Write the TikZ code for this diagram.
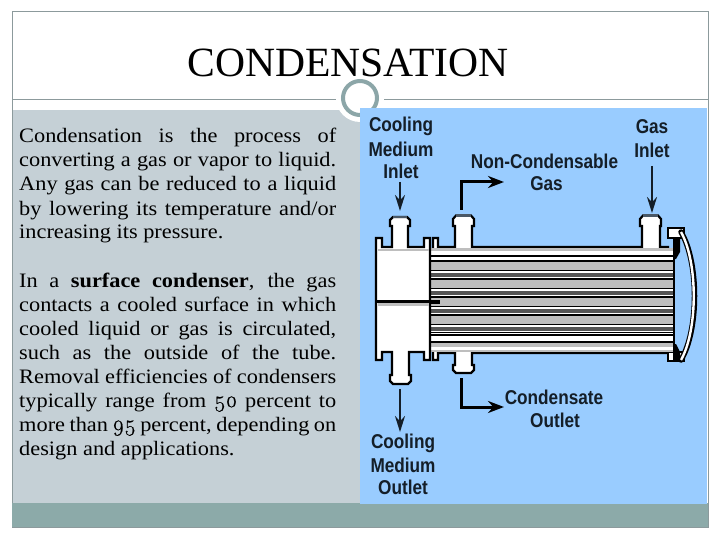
\documentclass[tikz,border=0pt]{standalone}
\usepackage{fontspec}
\usetikzlibrary{arrows.meta}
\setmainfont[FakeStretch=1.09]{Liberation Serif}
\newfontfamily\titlefont{Liberation Serif}
\newfontfamily\oldnums[Numbers=OldStyle,Scale=1.1,FakeBold=0.8]{Latin Modern Roman}
\newfontfamily\labfont[FakeStretch=0.86]{Liberation Sans}
\definecolor{framegray}{HTML}{8C9A9C}
\definecolor{panelgray}{HTML}{C5D0D6}
\definecolor{bandteal}{HTML}{8CAAA9}
\definecolor{ringteal}{HTML}{8CA6A8}
\definecolor{skyblue}{HTML}{99CCFF}
\definecolor{lab}{HTML}{141E28}
\definecolor{tubelight}{HTML}{BEBEBE}
\definecolor{tubedark}{HTML}{555555}
\definecolor{capgray}{HTML}{4A5866}
\newcommand{\bodysize}{\fontsize{20.5}{24}\selectfont}
\newcommand{\jl}[1]{\makebox[317pt][s]{#1}}
\tikzset{
  txt/.style={anchor=base west,inner sep=0pt,font=\bodysize,text=black},
  lbl/.style={inner sep=0pt,text=lab,font=\labfont\bfseries\fontsize{20}{22}\selectfont},
  metal/.style={fill=white,draw=black,line width=2.2pt,line join=miter},
  flow/.style={draw=lab,line width=2.2pt,-{Stealth[length=16pt,width=10pt]}},
  flowb/.style={draw=black,line width=3pt,line join=miter,-{Stealth[length=16pt,width=12pt]}}
}
\begin{document}
\begin{tikzpicture}[x=1pt,y=-1pt]
\useasboundingbox (0,0) rectangle (720,540);
\fill[white] (0,0) rectangle (720,540);
% slide
\fill[panelgray] (12,110) rectangle (360,503);
\draw[framegray,line width=1pt] (12,12) rectangle (708,527);
\draw[framegray,line width=1pt] (12,100) -- (708,100);
\fill[bandteal] (12,503) rectangle (708,527);
\fill[white] (360,98) circle (24);
\draw[ringteal,line width=4pt] (360,98) circle (17);
\fill[skyblue] (360,108) rectangle (707,503.5);
\node[anchor=base,inner sep=0pt,font=\titlefont\fontsize{41.6}{42}\selectfont] (title) at (348,77) {CONDENSATION};
% text
\node[txt] (l1) at (19,143) {\jl{Condensation is the process of}};
\node[txt] (l2) at (19,167) {\jl{converting a gas or vapor to liquid.}};
\node[txt] (l3) at (19,191) {\jl{Any gas can be reduced to a liquid}};
\node[txt] (l4) at (19,215) {\jl{by lowering its temperature and/or}};
\node[txt] (l5) at (19,239) {increasing its pressure.};
\node[txt] (l6) at (19,287) {\jl{In a \textbf{surface condenser}, the gas}};
\node[txt] (l7) at (19,311) {\jl{contacts a cooled surface in which}};
\node[txt] (l8) at (19,335) {\jl{cooled liquid or gas is circulated,}};
\node[txt] (l9) at (19,359) {\jl{such as the outside of the tube.}};
\node[txt] (l10) at (19,383) {\jl{Removal efficiencies of condensers}};
\node[txt] (l11) at (19,407) {\jl{typically range from {\oldnums 50} percent to}};
\node[txt] (l12) at (19,431) {\jl{more than {\oldnums 95} percent, depending on}};
\node[txt] (l13) at (19,455) {design and applications.};
% shell body
\path[metal] (433,238) -- (438,238) -- (438,247) -- (455,247) -- (455,226) -- (453,226) -- (453,219) -- (456,215.5) -- (471,215.5) -- (474,219) -- (474,226) -- (472,226) -- (472,247)
 -- (642,247) -- (642,226) -- (640,226) -- (640,219) -- (643,215.5) -- (658,215.5) -- (661,219) -- (661,226) -- (660,226) -- (660,247) -- (668,247) -- (668,353)
 -- (472,353) -- (472,365) -- (474,365) -- (474,370) -- (471,373) -- (456,373) -- (453,370) -- (453,365) -- (455,365) -- (455,353) -- (438,353) -- (438,360) -- (433,360) -- cycle;
\fill[white] (660,249) rectangle (673,351);
% end flanges
\path[metal] (668,228) rectangle (684,238);
\path[metal] (668,352) rectangle (684,361);
% tube bundle
\begin{scope}
\clip (431,248.5) rectangle (673,351.5);
\fill[white] (431,248) rectangle (673,352);
\fill[tubelight] (431,248) rectangle (673,251);
\foreach \d in {256.7,274.7,292.7,310.7,328.7}{
  \fill[tubedark] (431,\d-2) rectangle (673,\d+2);
  \fill[black] (431,\d+3.2) rectangle (673,\d+4.8);
  \fill[tubelight] (431,\d+5) rectangle (673,\d+12.8);
  \fill[black] (431,\d+13) rectangle (673,\d+14.6);
}
\fill[white] (431,251) rectangle (673,260);
\fill[black] (431,255) rectangle (673,257);
\fill[black] (431,260) rectangle (673,261.6);
\fill[white] (431,333) rectangle (673,352);
\fill[black] (431,334) rectangle (673,336);
\fill[black] (431,341) rectangle (673,342.5);
\fill[tubelight] (431,343) rectangle (673,347);
\fill[tubelight] (431,350) rectangle (673,352);
\end{scope}
% left head
\path[metal] (376,238) -- (382,238) -- (382,247) -- (392,247) -- (392,226) -- (390,226) -- (390,220) -- (393,217) -- (407,217) -- (410,220) -- (410,226) -- (408,226) -- (408,247) -- (424,247) -- (424,238) -- (430,238)
 -- (430,360) -- (424,360) -- (424,352) -- (409,352) -- (409,375) -- (411,375) -- (411,381) -- (408,384) -- (393,384) -- (390,381) -- (390,375) -- (392,375) -- (392,352) -- (382,352) -- (382,360) -- (376,360) -- cycle;
\fill[tubelight] (377.5,249) rectangle (428.5,251);
\fill[tubelight] (377.5,303) rectangle (428.5,306);
\draw[black,line width=2.6pt] (375,301.5) -- (431,301.5);
\draw[black,line width=4pt] (431,301.5) -- (440,301.5);
\draw[black,line width=2pt] (430,238) -- (430,360);
% nozzle caps
\draw[capgray,line width=2.6pt] (393,217) -- (407,217);
\draw[capgray,line width=2.6pt] (456,215.5) -- (471,215.5);
\draw[capgray,line width=2.6pt] (643,215.5) -- (658,215.5);
% far end
\draw[black,line width=5.5pt,line cap=round] (681,232) .. controls (699,262) and (699,330) .. (681,360);
\draw[white,line width=2.4pt] (681,232) .. controls (698,262) and (698,330) .. (681,360);
\fill[black] (673,237) -- (680,237) -- (680,252) -- (676,259) -- (673,259) -- cycle;
\fill[black] (673,344) -- (676,344) -- (680,352) -- (680,361) -- (673,361) -- cycle;
\draw[black,line width=2.6pt] (674,237) -- (674,361);
% flow coordinates
\coordinate (cis) at (400,182); \coordinate (cie) at (400,211);
\coordinate (ncs) at (461,210); \coordinate (ncc) at (461,182); \coordinate (nce) at (504,182);
\coordinate (gis) at (652,166); \coordinate (gie) at (652,213);
\coordinate (cos) at (400,389); \coordinate (coe) at (400,432);
\coordinate (cds) at (461,378); \coordinate (cdc) at (461,407); \coordinate (cde) at (504,407);
\draw[flow] (cis) -- (cie);
\draw[flowb] (ncs) -- (ncc) -- (nce);
\draw[flow] (gis) -- (gie);
\draw[flow] (cos) -- (coe);
\draw[flowb] (cds) -- (cdc) -- (cde);
% labels
\node[lbl] (t1) at (401,126) {Cooling};
\node[lbl] (t2) at (401,149) {Medium};
\node[lbl] (t3) at (401,171) {Inlet};
\node[lbl] (t4) at (544.5,161) {Non-Condensable};
\node[lbl] (t5) at (546.5,184) {Gas};
\node[lbl] (t6) at (652,127) {Gas};
\node[lbl] (t7) at (652,150) {Inlet};
\node[lbl] (t8) at (554,397) {Condensate};
\node[lbl] (t9) at (555,420) {Outlet};
\node[lbl] (t10) at (403,443) {Cooling};
\node[lbl] (t11) at (403,465) {Medium};
\node[lbl] (t12) at (403,487) {Outlet};
\end{tikzpicture}
\end{document}
